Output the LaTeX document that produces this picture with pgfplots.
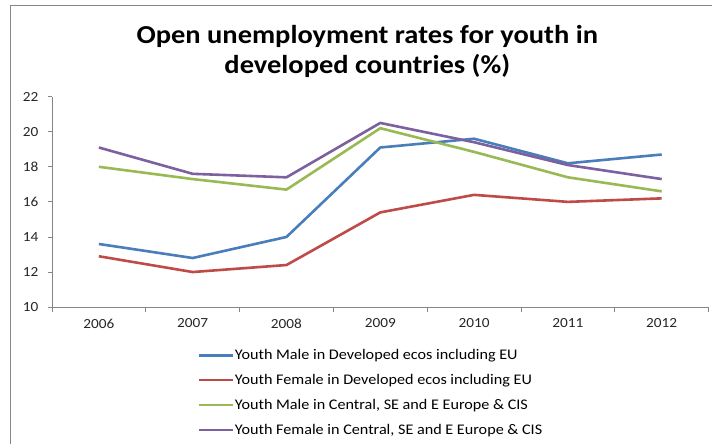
\documentclass[border=0pt]{standalone}
\usepackage{pgfplots}
\pgfplotsset{compat=1.18}
\usepackage{fontspec}
\setmainfont{Carlito}[FakeStretch=1.1]
\definecolor{cblue}{HTML}{4A7EBB}
\definecolor{cred}{HTML}{BE4B48}
\definecolor{cgreen}{HTML}{98B954}
\definecolor{cpurple}{HTML}{7D60A0}
\definecolor{axgray}{HTML}{868686}
\begin{document}
\begin{tikzpicture}[x=1bp,y=1bp]
\path (0,0) rectangle (712,444);
\draw[axgray, line width=0.8bp] (10,0) -- (10,439) -- (712,439);
\node[font=\fontsize{25.9bp}{30bp}\selectfont\bfseries, anchor=base, inner sep=0pt] at (367.5,400.5) {Open unemployment rates for youth in};
\node[font=\fontsize{25.9bp}{30bp}\selectfont\bfseries, anchor=base, inner sep=0pt] at (367.5,370.5) {developed countries (\%)};
\begin{axis}[
  at={(52bp,136.7bp)}, anchor=south west,
  scale only axis, width=657bp, height=210.6bp,
  xmin=-0.5, xmax=6.5, ymin=10, ymax=22,
  xtick={0,...,6}, xticklabels={2006,2007,2008,2009,2010,2011,2012},
  minor xtick={-0.5,0.5,...,6.5},
  ytick={10,12,...,22},
  axis x line*=bottom, axis y line*=left,
  axis line style={axgray, line width=0.8bp, -},
  tick align=outside,
  major tick length=4bp, minor tick length=5bp,
  major x tick style={draw=none},
  y tick style={axgray, line width=0.8bp},
  minor x tick style={axgray, line width=0.8bp},
  tick label style={font=\fontsize{13.9bp}{16bp}\selectfont, text=black!85},
  /pgf/number format/assume math mode=true,
  x tick label style={yshift=-4bp},
  y tick label style={xshift=-6bp},
  legend style={at={(rel axis cs:0.222,-0.198)}, anchor=north west, draw=none,
    font=\fontsize{14.7bp}{16bp}\selectfont, row sep=12.2bp, cells={anchor=west},
    inner sep=0pt, nodes={inner sep=0.5bp}},
  legend image code/.code={\draw[#1, line width=2.5bp] (0bp,0bp) -- (34bp,0bp);},
  every axis plot/.append style={line width=2.6bp, line join=round},
]
\addplot[cblue] coordinates {(0,13.6) (1,12.8) (2,14.0) (3,19.1) (4,19.6) (5,18.2) (6,18.7)};
\addplot[cred] coordinates {(0,12.9) (1,12.0) (2,12.4) (3,15.4) (4,16.4) (5,16.0) (6,16.2)};
\addplot[cgreen] coordinates {(0,18.0) (1,17.3) (2,16.7) (3,20.2) (4,18.85) (5,17.4) (6,16.6)};
\addplot[cpurple] coordinates {(0,19.1) (1,17.6) (2,17.4) (3,20.5) (4,19.4) (5,18.1) (6,17.3)};
\legend{{Youth Male in Developed ecos including EU}, {Youth Female in Developed ecos including EU}, {Youth Male in Central, SE and E Europe \& CIS}, {Youth Female in Central, SE and E Europe \& CIS}}
\end{axis}
\end{tikzpicture}
\end{document}
